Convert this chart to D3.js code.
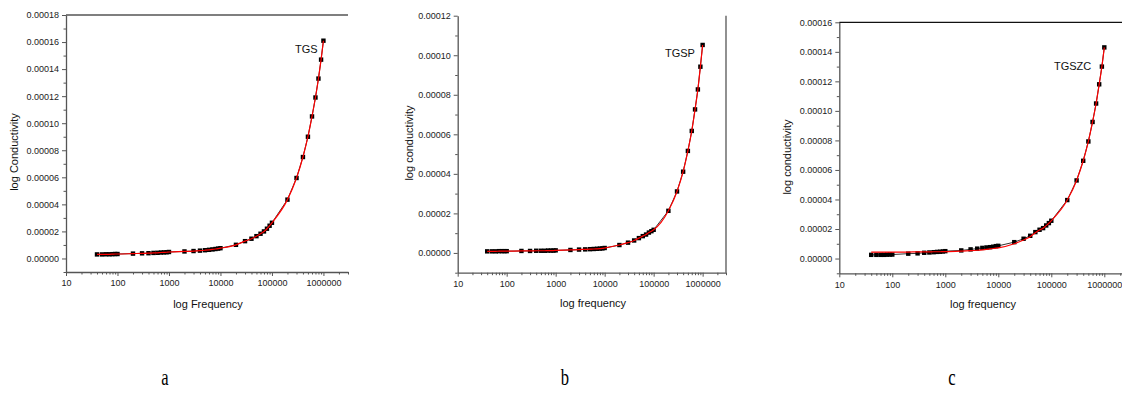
<!DOCTYPE html>
<html>
<head>
<meta charset="utf-8">
<script src="https://cdn.jsdelivr.net/npm/d3@7"></script>
<style>
  body { margin: 0; background: #fff; }
  svg { display: block; font-family: "Liberation Sans", Arial, sans-serif; }
  .axis path, .axis line { stroke: #555; }
  .axis text { fill: #222; font-size: 9px; }
</style>
</head>
<body>
<div id="chart-area"></div>
<script>
const SVG_WIDTH = 1122
const SVG_HEIGHT = 393

// measured frequencies (Hz)
const FREQ = [40, 50, 60, 70, 80, 90, 100,
  200, 300, 400, 500, 600, 700, 800, 900, 1000,
  2000, 3000, 4000, 5000, 6000, 7000, 8000, 9000, 10000,
  20000, 30000, 40000, 50000, 60000, 70000, 80000, 90000, 100000,
  200000, 300000, 400000, 500000, 600000, 700000, 800000, 900000, 1000000]

// conductivity, in units of 1e-5
const TGS = [0.30, 0.30, 0.31, 0.31, 0.32, 0.33, 0.33,
  0.36, 0.38, 0.39, 0.41, 0.42, 0.44, 0.45, 0.46, 0.48,
  0.52, 0.55, 0.58, 0.61, 0.64, 0.67, 0.70, 0.73, 0.76,
  1.01, 1.28, 1.46, 1.65, 1.83, 2.00, 2.20, 2.42, 2.64,
  4.35, 5.95, 7.50, 9.00, 10.5, 11.9, 13.3, 14.7, 16.1]

const TGSP = [0.08, 0.08, 0.08, 0.09, 0.09, 0.09, 0.09,
  0.10, 0.10, 0.11, 0.11, 0.11, 0.12, 0.12, 0.12, 0.13,
  0.15, 0.17, 0.18, 0.19, 0.20, 0.21, 0.22, 0.23, 0.25,
  0.40, 0.52, 0.63, 0.75, 0.85, 0.93, 1.03, 1.10, 1.17,
  2.13, 3.11, 4.11, 5.16, 6.17, 7.26, 8.27, 9.42, 10.52]

const TGSZC = [0.25, 0.25, 0.25, 0.25, 0.26, 0.27, 0.27,
  0.33, 0.35, 0.39, 0.41, 0.43, 0.45, 0.46, 0.48, 0.50,
  0.55, 0.62, 0.67, 0.72, 0.75, 0.77, 0.80, 0.84, 0.86,
  1.11, 1.34, 1.54, 1.79, 1.95, 2.06, 2.24, 2.40, 2.56,
  3.96, 5.29, 6.62, 7.93, 9.25, 10.5, 11.8, 13.0, 14.3]

// red fitted curve of TGSZC (differs from the points at low frequency)
const FIT_TGSZC = [0.43, 0.43, 0.43, 0.43, 0.44, 0.44, 0.44,
  0.44, 0.45, 0.45, 0.45, 0.46, 0.46, 0.46, 0.47, 0.47,
  0.50, 0.53, 0.56, 0.59, 0.62, 0.65, 0.68, 0.70, 0.72,
  1.00, 1.25, 1.48, 1.75, 1.93, 2.05, 2.23, 2.39, 2.56,
  3.96, 5.29, 6.62, 7.93, 9.25, 10.5, 11.8, 13.0, 14.3]

const X_MAJOR = [10, 100, 1000, 10000, 100000, 1000000]
const Y_TICKS_A = [0, 2, 4, 6, 8, 10, 12, 14, 16, 18]
const Y_TICKS_B = [0, 2, 4, 6, 8, 10, 12]
const Y_TICKS_C = [0, 2, 4, 6, 8, 10, 12, 14, 16]

const panels = [
  { left: 66, right: 348, top: 15, bottom: 272, yMax: 18, yTicks: Y_TICKS_A,
    data: TGS, fit: TGS, name: "TGS", nameX: 295, nameY: 53,
    xTitle: "log Frequency", xTitleX: 208, xTitleY: 308,
    yTitle: "log Conductivity", yTitleX: 18, yTitleY: 152,
    frameTop: true, frameRight: false, letter: "a", letterX: 165 },
  { left: 457.7, right: 726, top: 15.7, bottom: 272.7, yMax: 12, yTicks: Y_TICKS_B,
    data: TGSP, fit: TGSP, name: "TGSP", nameX: 665, nameY: 57,
    xTitle: "log frequency", xTitleX: 593, xTitleY: 307,
    yTitle: "log conductivity", yTitleX: 413, yTitleY: 143,
    frameTop: false, frameRight: true, letter: "b", letterX: 565 },
  { left: 839.3, right: 1129.6, top: 22.3, bottom: 273.3, yMax: 16, yTicks: Y_TICKS_C,
    data: TGSZC, fit: FIT_TGSZC, name: "TGSZC", nameX: 1054, nameY: 70,
    xTitle: "log frequency", xTitleX: 983, xTitleY: 308,
    yTitle: "log conductivity", yTitleX: 791, yTitleY: 157,
    frameTop: true, frameRight: false, letter: "c", letterX: 952, frameColor: "#111" }
]

const svg = d3.select("#chart-area").append("svg")
  .attr("width", SVG_WIDTH)
  .attr("height", SVG_HEIGHT)

// minor ticks for the log axis: 2..9 of every decade up to 3e6
const xMinor = []
for (let dec = 10; dec <= 1000000; dec *= 10) {
  for (let k = 2; k <= 9; k++) {
    if (dec * k <= 3000000) xMinor.push(dec * k)
  }
}

panels.forEach(p => {
  const g = svg.append("g")
  const frameColor = p.frameColor || "#555"

  const x = d3.scaleLog()
    .domain([10, 3000000])
    .range([p.left, p.right])

  const y = d3.scaleLinear()
    .domain([-1, p.yMax])
    .range([p.bottom, p.top])

  const yMinor = d3.range(-1, p.yMax + 0.5, 1).filter(v => v % 2 !== 0)

  // minor ticks first
  g.append("g")
    .attr("class", "axis")
    .attr("transform", `translate(0, ${p.bottom})`)
    .call(d3.axisBottom(x).tickValues(xMinor).tickFormat("").tickSize(2.5).tickSizeOuter(0))
    .select(".domain").remove()

  g.append("g")
    .attr("class", "axis")
    .attr("transform", `translate(${p.left}, 0)`)
    .call(d3.axisLeft(y).tickValues(yMinor).tickFormat("").tickSize(2.5).tickSizeOuter(0))
    .select(".domain").remove()

  const xAxis = g.append("g")
    .attr("class", "axis")
    .attr("transform", `translate(0, ${p.bottom})`)
    .call(d3.axisBottom(x).tickValues(X_MAJOR).tickFormat(d3.format("d")).tickSize(4).tickSizeOuter(0).tickPadding(4))

  const yAxis = g.append("g")
    .attr("class", "axis")
    .attr("transform", `translate(${p.left}, 0)`)
    .call(d3.axisLeft(y).tickValues(p.yTicks).tickFormat(d => d3.format(".5f")(d * 1e-5)).tickSize(4).tickSizeOuter(0).tickPadding(3))

  g.selectAll(".axis path, .axis line").attr("stroke", frameColor)
  xAxis.select(".domain").attr("stroke-width", 1.3)
  yAxis.select(".domain").attr("stroke-width", 1.3)

  if (p.frameTop) {
    g.append("line")
      .attr("x1", p.left).attr("x2", p.right)
      .attr("y1", p.top).attr("y2", p.top)
      .attr("stroke", frameColor).attr("stroke-width", 1.3)
  }
  if (p.frameRight) {
    g.append("line")
      .attr("x1", p.right).attr("x2", p.right)
      .attr("y1", p.top).attr("y2", p.bottom)
      .attr("stroke", frameColor).attr("stroke-width", 1.3)
  }

  const pts = FREQ.map((f, i) => ({ f: f, v: p.data[i], fit: p.fit[i] }))

  // thin black line joining the points
  g.append("path")
    .datum(pts)
    .attr("fill", "none")
    .attr("stroke", "#000")
    .attr("stroke-width", 0.8)
    .attr("d", d3.line().x(d => x(d.f)).y(d => y(d.v)))

  g.selectAll("rect.pt")
    .data(pts)
    .enter().append("rect")
    .attr("class", "pt")
    .attr("x", d => x(d.f) - 2.2)
    .attr("y", d => y(d.v) - 2.2)
    .attr("width", 4.4)
    .attr("height", 4.4)
    .attr("fill", "#000")

  // red fitted curve
  g.append("path")
    .datum(pts)
    .attr("fill", "none")
    .attr("stroke", "#ff0000")
    .attr("stroke-width", 1.2)
    .attr("d", d3.line().curve(d3.curveMonotoneX).x(d => x(d.f)).y(d => y(d.fit)))

  g.append("text")
    .attr("x", p.nameX)
    .attr("y", p.nameY)
    .attr("font-size", "11px")
    .attr("fill", "#111")
    .text(p.name)

  g.append("text")
    .attr("x", p.xTitleX)
    .attr("y", p.xTitleY)
    .attr("font-size", "11px")
    .attr("text-anchor", "middle")
    .attr("fill", "#111")
    .text(p.xTitle)

  g.append("text")
    .attr("transform", `translate(${p.yTitleX}, ${p.yTitleY}) rotate(-90)`)
    .attr("font-size", "11px")
    .attr("text-anchor", "middle")
    .attr("fill", "#111")
    .text(p.yTitle)

  g.append("text")
    .attr("transform", `translate(${p.letterX}, 385) scale(0.72, 1)`)
    .attr("font-family", "'Liberation Serif', 'Times New Roman', serif")
    .attr("font-size", "23px")
    .attr("text-anchor", "middle")
    .attr("fill", "#000")
    .text(p.letter)
})
</script>
</body>
</html>
